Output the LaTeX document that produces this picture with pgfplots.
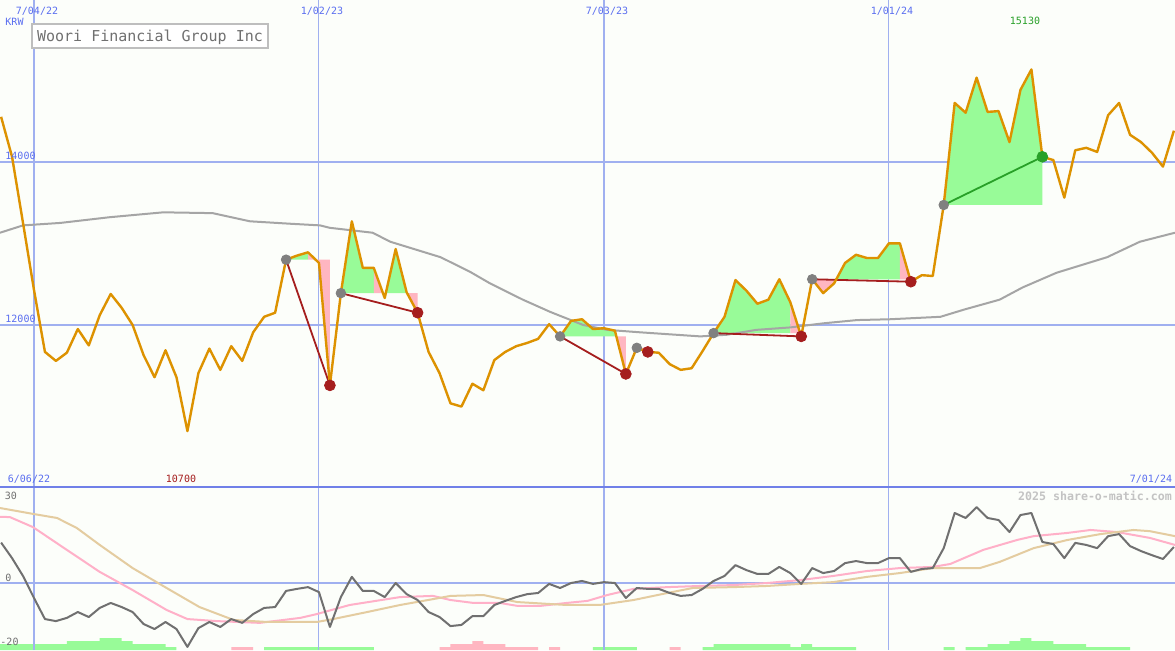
\documentclass[border=0pt]{standalone}
\usepackage{pgfplots}
\pgfplotsset{compat=1.18}
\usepackage{fontspec}
\setmainfont{DejaVu Sans Mono}
\setmonofont{DejaVu Sans Mono}
\definecolor{bg}{RGB}{252,254,250}
\definecolor{gridb}{RGB}{160,176,240}
\definecolor{divb}{RGB}{112,128,232}
\definecolor{lblb}{RGB}{90,110,240}
\definecolor{price}{RGB}{221,146,0}
\definecolor{ma}{RGB}{165,165,165}
\definecolor{gfill}{RGB}{152,251,152}
\definecolor{pfill}{RGB}{255,182,193}
\definecolor{lossc}{RGB}{165,30,30}
\definecolor{winc}{RGB}{40,160,40}
\definecolor{entryc}{RGB}{128,128,128}
\definecolor{osc}{RGB}{112,112,112}
\definecolor{sigp}{RGB}{255,176,200}
\definecolor{sigt}{RGB}{228,204,160}
\definecolor{boxc}{RGB}{190,190,190}
\definecolor{titc}{RGB}{112,112,112}
\definecolor{wmc}{RGB}{195,195,195}

\pgfplotstableread{
k p
0 14550
1 14060
2 13250
3 12430
4 11670
5 11560
6 11660
7 11950
8 11750
9 12120
10 12380
11 12210
12 12000
13 11630
14 11360
15 11690
16 11360
17 10700
18 11410
19 11710
20 11450
21 11740
22 11560
23 11910
24 12100
25 12150
26 12800
27 12850
28 12890
29 12760
30 11260
31 12390
32 13270
33 12700
34 12700
35 12330
36 12930
37 12400
38 12150
39 11670
40 11410
41 11040
42 11000
43 11280
44 11200
45 11570
46 11670
47 11740
48 11780
49 11830
50 12010
51 11860
52 12050
53 12070
54 11950
55 11960
56 11930
57 11400
58 11720
59 11670
60 11660
61 11520
62 11450
63 11470
64 11680
65 11900
66 12100
67 12550
68 12420
69 12260
70 12310
71 12560
72 12280
73 11860
74 12560
75 12390
76 12510
77 12760
78 12860
79 12820
80 12820
81 13000
82 13000
83 12530
84 12610
85 12600
86 13470
87 14720
88 14600
89 15030
90 14610
91 14620
92 14240
93 14880
94 15130
95 14060
96 14020
97 13560
98 14140
99 14170
100 14120
101 14570
102 14720
103 14330
104 14240
105 14110
106 13940
107 14380
}\pricetab

\pgfplotstableread{
k m
-0.1 13130
2 13220
5.4 13250
9.9 13320
14.8 13380
19.3 13370
22.7 13270
26.4 13240
29.1 13220
30 13190
33.9 13130
35.5 13020
40.1 12830
42.8 12650
44.6 12510
47.6 12310
50.1 12160
53.1 12000
55.3 11940
58.3 11910
63.8 11860
66.2 11880
68.9 11940
72 11970
75 12020
78.1 12060
81.1 12070
85.7 12100
87.9 12190
91.1 12310
93.2 12460
96.3 12640
100.9 12830
103.9 13020
107.1 13130
}\matab

\pgfplotstableread{
k v
0 13.9
1 8.6
2 2.5
3 -5.0
4 -12.2
5 -12.9
6 -11.8
7 -9.8
8 -11.5
9 -8.4
10 -6.7
11 -8.1
12 -9.8
13 -13.9
14 -15.6
15 -13.2
16 -15.6
17 -21.7
18 -15.3
19 -13.2
20 -14.9
21 -12.2
22 -13.5
23 -10.5
24 -8.4
25 -8.1
26 -2.6
27 -1.9
28 -1.3
29 -3.0
30 -14.9
31 -4.7
32 2.2
33 -2.6
34 -2.6
35 -4.7
36 0.1
37 -3.7
38 -5.7
39 -9.8
40 -11.5
41 -14.6
42 -14.2
43 -11.2
44 -11.2
45 -7.4
46 -6.0
47 -4.7
48 -3.7
49 -3.3
50 -0.2
51 -1.6
52 0.1
53 0.8
54 -0.2
55 0.4
56 0.1
57 -5.0
58 -1.6
59 -1.9
60 -1.9
61 -3.3
62 -4.3
63 -4.0
64 -1.9
65 0.8
66 2.5
67 6.2
68 4.5
69 3.2
70 3.2
71 5.6
72 3.5
73 -0.2
74 5.2
75 3.5
76 4.2
77 6.9
78 7.6
79 6.9
80 6.9
81 8.6
82 8.6
83 3.9
84 4.9
85 5.2
86 12.0
87 24.0
88 22.3
89 26.0
90 22.3
91 21.6
92 17.5
93 23.3
94 24.0
95 14.1
96 13.4
97 8.6
98 13.8
99 13.1
100 12.0
101 16.1
102 16.8
103 12.7
104 11.0
105 9.6
106 8.3
107 12.4
}\osctab

\pgfplotstableread{
k v
-0.1 22.7
0.8 22.6
2.9 19.2
6.0 11.4
9.0 3.9
12.0 -2.3
15.1 -9.1
17.0 -12.2
19.7 -12.9
23.6 -13.5
27.3 -11.8
28.8 -10.5
31.8 -7.4
36.4 -4.7
39.4 -4.3
41.0 -5.7
43.1 -6.7
45.5 -6.7
47.1 -7.7
49.2 -7.7
51.6 -6.7
53.5 -6.0
55.3 -4.0
57.7 -1.9
60.8 -1.3
63.8 -0.9
66.8 -0.6
69.9 0.1
72.9 1.1
75.9 2.5
79.0 4.2
82.0 5.2
85.0 5.6
86.6 6.6
89.6 11.4
92.7 14.8
94.2 16.1
97.3 17.2
99.4 18.2
101.8 17.5
104.8 15.5
107.1 13.1
}\pinktab

\pgfplotstableread{
k v
-0.1 25.7
2.9 23.7
5.1 22.3
6.9 18.9
9.0 13.1
12.0 5.2
15.1 -1.6
18.1 -8.1
21.2 -12.5
24.3 -13.2
28.8 -13.2
30.3 -12.2
33.4 -9.8
36.4 -7.4
39.4 -5.4
41.0 -4.3
44.0 -4.0
47.1 -6.4
51.6 -7.4
54.6 -7.4
57.7 -5.7
60.8 -3.3
63.1 -1.6
66.8 -1.3
69.9 -0.9
72.9 -0.2
75.9 0.4
79.0 2.2
82.0 3.5
85.0 5.2
89.3 5.2
91.1 7.3
94.2 12.0
97.3 14.8
100.3 16.8
103.3 18.2
104.8 17.8
107.1 16.1
}\tantab

\pgfplotsset{
  common/.style={
    scale only axis, width=587.5pt,
    xmin=-0.1, xmax=107.1,
    axis line style={draw=none}, tick style={draw=none},
    xtick={3,55}, extra x ticks={29,81},
    xticklabels={}, yticklabels={}, extra x tick labels={},
    extra x tick style={xmajorgrids=true, major grid style={gridb, line width=0.5pt}},
    xmajorgrids, ymajorgrids,
    major grid style={gridb, line width=1pt},
  }
}

\begin{document}
\begin{tikzpicture}
\fill[bg] (0,0) rectangle (587.5pt,325pt);

% bars of the lower panel (heights in units of 3 px)
\begin{axis}[at={(0,0)}, anchor=south west, scale only axis, width=587.5pt, height=81.5pt,
  xmin=-0.1, xmax=107.1, ymin=0, ymax=54.333, hide axis]
\addplot[ybar, bar width=1, bar shift=0pt, fill=gfill, draw=none] coordinates {
(-0.5,2) (0.5,2) (1.5,2) (2.5,2) (3.5,2) (4.5,2) (5.5,2) (6.5,3) (7.5,3) (8.5,3)
(9.5,4) (10.5,4) (11.5,3) (12.5,2) (13.5,2) (14.5,2) (15.5,1)
(24.5,1) (25.5,1) (26.5,1) (27.5,1) (28.5,1) (29.5,1) (30.5,1) (31.5,1) (32.5,1) (33.5,1)
(54.5,1) (55.5,1) (56.5,1) (57.5,1)
(64.5,1) (65.5,2) (66.5,2) (67.5,2) (68.5,2) (69.5,2) (70.5,2) (71.5,2) (72.5,1) (73.5,2)
(74.5,1) (75.5,1) (76.5,1) (77.5,1)
(86.5,1) (88.5,1) (89.5,1) (90.5,2) (91.5,2) (92.5,3) (93.5,4) (94.5,3) (95.5,3)
(96.5,2) (97.5,2) (98.5,2) (99.5,1) (100.5,1) (101.5,1) (102.5,1)};
\addplot[ybar, bar width=1, bar shift=0pt, fill=pfill, draw=none] coordinates {
(21.5,1) (22.5,1) (40.5,1) (41.5,2) (42.5,2) (43.5,3) (44.5,2) (45.5,2)
(46.5,1) (47.5,1) (48.5,1) (50.5,1) (61.5,1)};
\end{axis}

% lower panel lines
\begin{axis}[common, at={(0,0)}, anchor=south west, height=81.5pt,
  ymin=-22.76, ymax=32.87, ytick={0}]
\addplot[sigp, line width=1pt] table[x=k, y=v] {\pinktab};
\addplot[sigt, line width=1pt] table[x=k, y=v] {\tantab};
\addplot[osc, line width=1pt, line join=round] table[x=k, y=v] {\osctab};
\end{axis}

% main panel
\begin{axis}[common, at={(0,81.5pt)}, anchor=south west, height=243.5pt,
  ymin=10015, ymax=15981, ytick={12000,14000}]
% trade areas
\addplot[fill=gfill, draw=none] coordinates {(26,12800) (27,12850) (28,12890) (28,12800)};
\addplot[fill=pfill, draw=none] coordinates {(28,12800) (28,12890) (29,12760) (30,11260) (30,12800)};
\addplot[fill=gfill, draw=none] coordinates {(31,12390) (32,13270) (33,12700) (34,12700) (34,12390)};
\addplot[fill=pfill, draw=none] coordinates {(34,12390) (34,12700) (35,12330) (35,12390)};
\addplot[fill=gfill, draw=none] coordinates {(35,12390) (35,12330) (36,12930) (37,12400) (37,12390)};
\addplot[fill=pfill, draw=none] coordinates {(37,12390) (37,12400) (38,12150) (38,12390)};
\addplot[fill=gfill, draw=none] coordinates {(51,11860) (52,12050) (53,12070) (54,11950) (55,11960) (56,11930) (56,11860)};
\addplot[fill=pfill, draw=none] coordinates {(56,11860) (56,11930) (57,11400) (57,11860)};
\addplot[fill=pfill, draw=none] coordinates {(58,11720) (59,11670) (59,11720)};
\addplot[fill=gfill, draw=none] coordinates {(65,11900) (66,12100) (67,12550) (68,12420) (69,12260) (70,12310) (71,12560) (72,12280) (72,11900)};
\addplot[fill=pfill, draw=none] coordinates {(72,11900) (72,12280) (73,11860) (73,11900)};
\addplot[fill=pfill, draw=none] coordinates {(74,12560) (75,12390) (76,12510) (76,12560)};
\addplot[fill=gfill, draw=none] coordinates {(76,12560) (76,12510) (77,12760) (78,12860) (79,12820) (80,12820) (81,13000) (82,13000) (82,12560)};
\addplot[fill=pfill, draw=none] coordinates {(82,12560) (82,13000) (83,12530) (83,12560)};
\addplot[fill=gfill, draw=none] coordinates {(86,13470) (87,14720) (88,14600) (89,15030) (90,14610) (91,14620) (92,14240) (93,14880) (94,15130) (95,14060) (95,13470)};
% moving average
\addplot[ma, line width=1pt] table[x=k, y=m] {\matab};
% trade lines
\addplot[lossc, line width=0.9pt] coordinates {(26,12800) (30,11260)};
\addplot[lossc, line width=0.9pt] coordinates {(31,12390) (38,12150)};
\addplot[lossc, line width=0.9pt] coordinates {(51,11860) (57,11400)};
\addplot[lossc, line width=0.9pt] coordinates {(58,11720) (59,11670)};
\addplot[lossc, line width=0.9pt] coordinates {(65,11900) (73,11860)};
\addplot[lossc, line width=0.9pt] coordinates {(74,12560) (83,12530)};
\addplot[winc, line width=0.9pt] coordinates {(86,13470) (95,14060)};
% dots
\addplot[only marks, mark=*, mark size=2.4pt, mark options={fill=entryc, draw=entryc}]
  coordinates {(26,12800) (31,12390) (51,11860) (58,11720) (65,11900) (74,12560) (86,13470)};
\addplot[only marks, mark=*, mark size=2.7pt, mark options={fill=lossc, draw=lossc}]
  coordinates {(30,11260) (38,12150) (57,11400) (59,11670) (73,11860) (83,12530)};
\addplot[only marks, mark=*, mark size=2.7pt, mark options={fill=winc, draw=winc}]
  coordinates {(95,14060)};
% price
\addplot[price, line width=1.2pt, line join=round] table[x=k, y=p] {\pricetab};
\end{axis}

% texts and decorations (pixel coordinates)
\begin{scope}[x=0.5pt, y=-0.5pt, yshift=325pt]
\draw[divb, line width=1pt] (0,487) -- (1175,487);
\draw[boxc, fill=white, line width=1pt] (32.3,24) rectangle (268.3,48.3);
\node[titc, inner sep=0, font=\fontsize{7.5pt}{9pt}\selectfont] at (150,37) {Woori Financial Group Inc};
\tikzset{lb/.style={inner sep=0, font=\fontsize{5pt}{6pt}\selectfont}}
\node[lb, lblb] at (37,11) {7/04/22};
\node[lb, lblb] at (322,11) {1/02/23};
\node[lb, lblb] at (607,11) {7/03/23};
\node[lb, lblb] at (892,11) {1/01/24};
\node[lb, lblb] at (14.5,22) {KRW};
\node[lb, lblb] at (20.5,156) {14000};
\node[lb, lblb] at (20.5,319) {12000};
\node[lb, winc] at (1025,21) {15130};
\node[lb, lossc] at (181,479) {10700};
\node[lb, lblb] at (29,479) {6/06/22};
\node[lb, lblb] at (1151,479) {7/01/24};
\node[inner sep=0, wmc, font=\fontsize{5.8pt}{7pt}\selectfont\bfseries] at (1095,496) {2025 share-o-matic.com};
\node[lb, osc] at (11,495.5) {30};
\node[lb, osc] at (8.5,578) {0};
\node[lb, osc] at (9.5,642) {-20};
\end{scope}
\pgfresetboundingbox
\useasboundingbox (0,0) rectangle (587.5pt,325pt);
\end{tikzpicture}
\end{document}
